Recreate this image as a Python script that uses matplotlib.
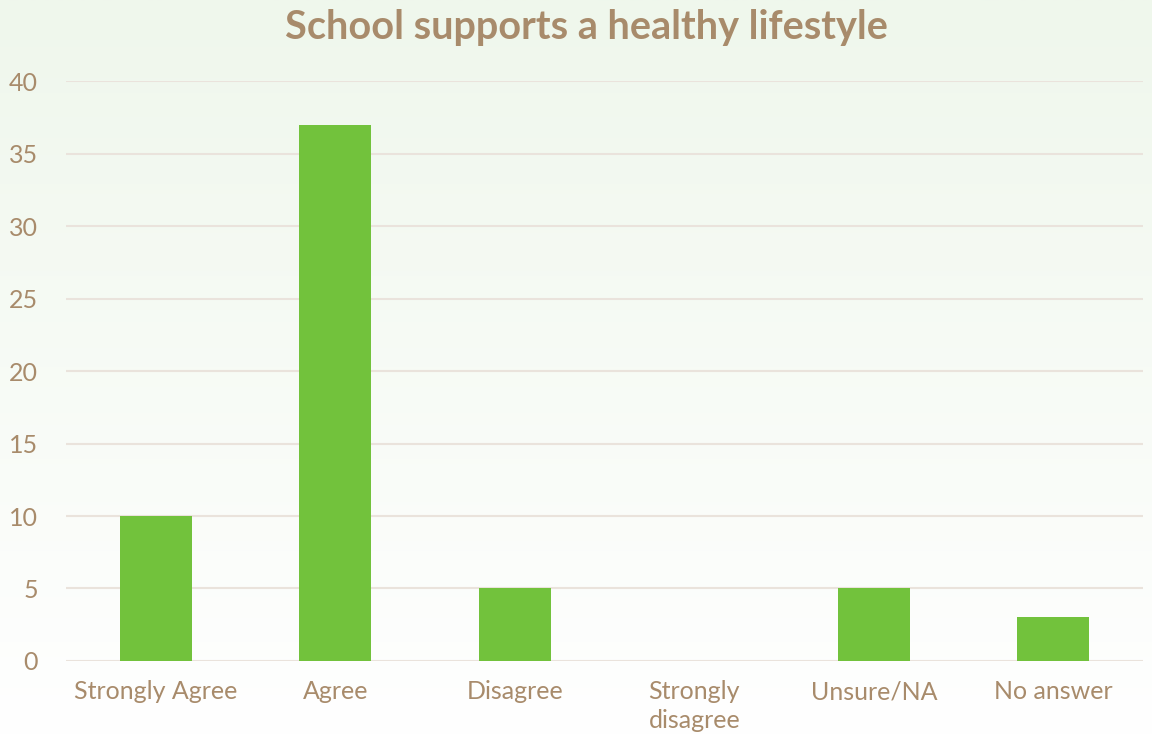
import matplotlib.pyplot as plt
import numpy as np

categories = ["Strongly Agree", "Agree", "Disagree", "Strongly\ndisagree", "Unsure/NA", "No answer"]
counts = [10, 37, 5, 0, 5, 3]

text_color = "#A88B6B"
bar_color = "#72C23C"
grid_color = "#EAE3DC"

plt.rcParams['font.family'] = ['Lato', 'DejaVu Sans']

fig = plt.figure(figsize=(11.52, 7.35), dpi=100)

# background gradient: light green at top fading to white at bottom
bg = fig.add_axes([0, 0, 1, 1], zorder=-10)
grad = np.linspace(0, 1, 256).reshape(-1, 1)
top = np.array([0xEF, 0xF7, 0xEC]) / 255
bottom = np.array([1.0, 1.0, 1.0])
img = top + (bottom - top) * grad[..., None]
bg.imshow(img, aspect='auto', extent=[0, 1, 0, 1])
bg.axis('off')

ax = fig.add_axes([0.0573, 0.1007, 0.935, 0.789])
ax.patch.set_alpha(0)
x = np.arange(len(categories))
ax.bar(x, counts, width=0.4, color=bar_color, zorder=3)

ax.set_ylim(0, 40)
ax.set_yticks(np.arange(0, 41, 5))
ax.set_xlim(-0.5, len(categories) - 0.5)
ax.set_xticks(x)
ax.set_xticklabels(categories, linespacing=1.3)
ax.grid(axis='y', color=grid_color, linewidth=1.5, zorder=0)
for s in ax.spines.values():
    s.set_visible(False)
ax.tick_params(axis='both', length=0, colors=text_color, labelsize=18)
ax.tick_params(axis='y', pad=20)
ax.tick_params(axis='x', pad=14)

fig.text(0.509, 0.963, "School supports a healthy lifestyle", ha='center', va='center',
         fontsize=28.5, fontweight='bold', color=text_color)

fig.savefig("out.png", dpi=100)
